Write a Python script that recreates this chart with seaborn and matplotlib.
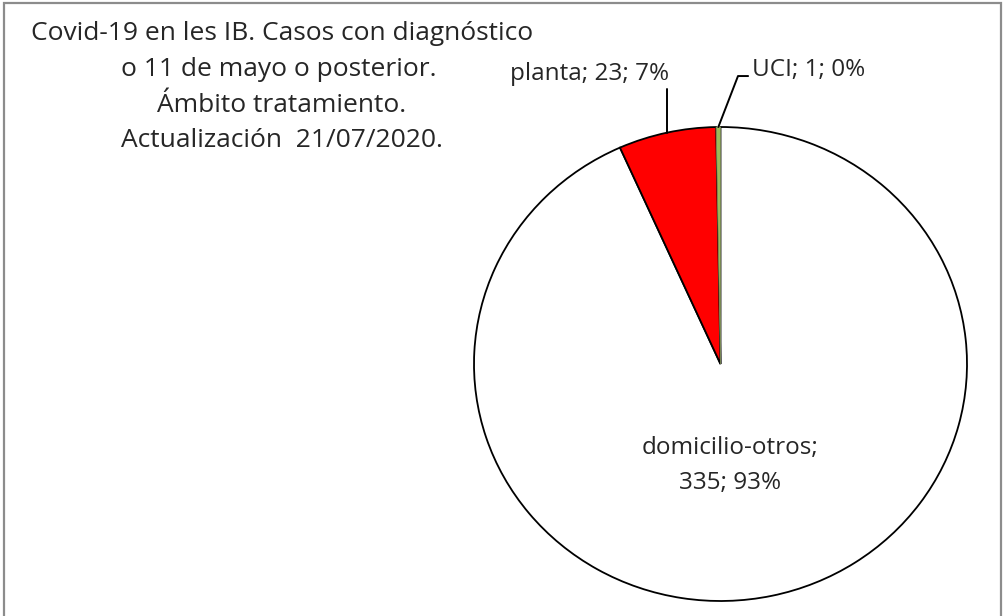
import numpy as np
import matplotlib
matplotlib.use("Agg")
import matplotlib.pyplot as plt
import seaborn as sns
from matplotlib.patches import Rectangle

# Cases by treatment setting
categories = ["domicilio-otros", "planta", "UCI"]
cases = [335, 23, 1]
percents = [93, 7, 0]
colors = ["#FFFFFF", "#FF0000", "#9BBB59"]

title_lines = [
    "Covid-19 en les IB. Casos con diagnóstico",
    "o 11 de mayo o posterior. ",
    "Ámbito tratamiento.",
    "Actualización  21/07/2020.",
]

sns.set_theme(style="white")
plt.rcParams["font.family"] = ["Open Sans", "DejaVu Sans"]

W, H = 1005, 616
fig = plt.figure(figsize=(W / 100, H / 100), dpi=100)
fig.patch.set_facecolor("white")

# outer frame
fig.add_artist(Rectangle((4 / W, -0.05), 997 / W, 1 - 3 / H + 0.05,
                         transform=fig.transFigure, fill=False,
                         edgecolor="#8c8c8c", linewidth=1.6))

# pie axes (slightly wider than tall)
cx, cy, rx, ry = 720.5, 364.0, 246.5, 237.0
ax = fig.add_axes([(cx - rx) / W, 1 - (cy + ry) / H, 2 * rx / W, 2 * ry / H])
wedges, _ = ax.pie(cases, colors=colors, startangle=90, counterclock=False,
                   radius=1.0,
                   wedgeprops=dict(edgecolor="black", linewidth=1.3))
wedges[2].set_edgecolor("#7f8f5a")
wedges[2].set_linewidth(0.6)
ax.set_xlim(-1, 1)
ax.set_ylim(-1, 1)
ax.set_aspect("auto")
ax.axis("off")

labels = [f"{c}; {v}; {p}%" for c, v, p in zip(categories, cases, percents)]

fs_lab = 17.5
fs_title = 19

# domicilio-otros label inside the slice
ax.text(0.04, -0.428, f"{categories[0]};\n{cases[0]}; {percents[0]}%",
        ha="center", va="center", fontsize=fs_lab, linespacing=1.6)

def mid_point(w):
    a = np.deg2rad((w.theta1 + w.theta2) / 2)
    return np.cos(a), np.sin(a)

# planta label with vertical leader
px, py = mid_point(wedges[1])
ax.plot([px, px], [py, 1.16], color="black", lw=1.4, clip_on=False)
ax.text(-0.53, 1.225, labels[1], ha="center", va="center", fontsize=fs_lab, clip_on=False)

# UCI label with elbow leader
ux, uy = mid_point(wedges[2])
ax.plot([ux, 0.071, 0.112], [uy, 1.215, 1.215], color="black", lw=1.4, clip_on=False)
ax.text(0.128, 1.24, labels[2], ha="left", va="center", fontsize=fs_lab, clip_on=False)

# title block
for i, line in enumerate(title_lines):
    fig.text(282 / W, 1 - (34 + 35.5 * i) / H, line, ha="center", va="center",
             fontsize=fs_title)

fig.savefig("out.png", dpi=100, facecolor="white")
